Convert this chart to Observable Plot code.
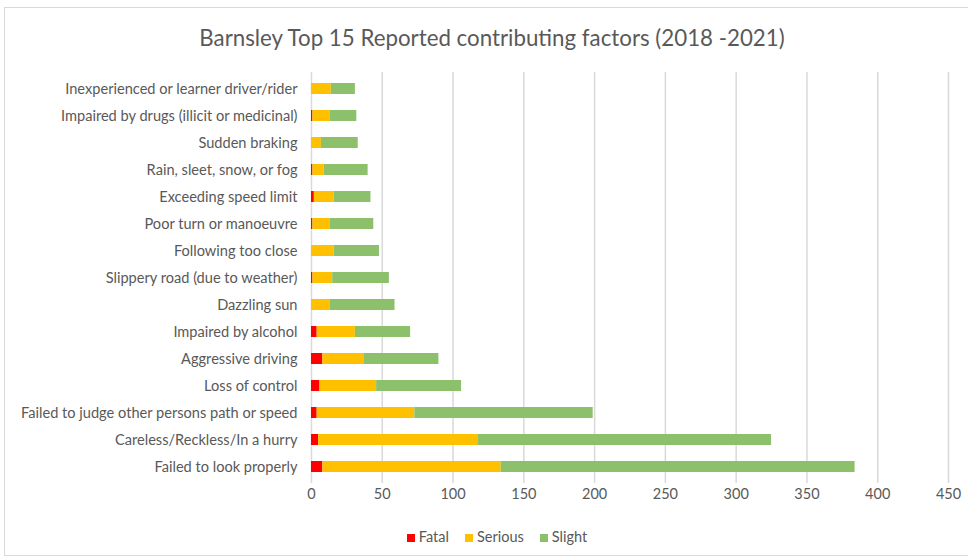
<!DOCTYPE html>
<html>
<head>
<meta charset="utf-8">
<script src="https://cdn.jsdelivr.net/npm/d3@7"></script>
<script src="https://cdn.jsdelivr.net/npm/@observablehq/plot@0.6"></script>
<style>
  body { margin: 0; background: #fff; }
  #wrap { position: relative; width: 968px; height: 559px; overflow: hidden; font-family: Lato, "Open Sans", sans-serif; }
  #frame { position: absolute; left: 4px; top: 7px; width: 980px; height: 549px; border: 1px solid #d9d9d9; box-sizing: border-box; }
  #title { position: absolute; left: 0; width: 984px; top: 24px; text-align: center; font-size: 22.3px; color: #595959; }
  #chart { position: absolute; left: 0; top: 0; }
  #legend { position: absolute; top: 528px; left: 0; width: 994px; text-align: center; font-size: 14.5px; color: #595959; }
  #legend span.item { margin: 0 8px; }
  #legend span.sw { display: inline-block; width: 8px; height: 8px; margin-right: 4px; }
</style>
</head>
<body>
<div id="wrap">
  <div id="frame"></div>
  <div id="title">Barnsley Top 15 Reported contributing factors (2018 -2021)</div>
  <div id="chart"></div>
  <div id="legend"></div>
</div>
<script>
const categories = [
  "Inexperienced or learner driver/rider",
  "Impaired by drugs (illicit or medicinal)",
  "Sudden braking",
  "Rain, sleet, snow, or fog",
  "Exceeding speed limit",
  "Poor turn or manoeuvre",
  "Following too close",
  "Slippery road (due to weather)",
  "Dazzling sun",
  "Impaired by alcohol",
  "Aggressive driving",
  "Loss of control",
  "Failed to judge other persons path or speed",
  "Careless/Reckless/In a hurry",
  "Failed to look properly"
];
const fatal   = [0, 1, 0, 1, 2, 1, 0, 1, 0, 4, 8, 6, 4, 5, 8];
const serious = [14, 12, 7, 8, 14, 12, 16, 14, 13, 27, 29, 40, 69, 113, 126];
const slight  = [17, 19, 26, 31, 26, 31, 32, 40, 46, 39, 53, 60, 126, 207, 250];
const seriesNames = ["Fatal", "Serious", "Slight"];
const seriesColors = ["#ff0000", "#ffc000", "#8cc06a"];
const xTicks = [0, 50, 100, 150, 200, 250, 300, 350, 400, 450];

const rows = [];
categories.forEach((c, i) => {
  rows.push({cat: c, series: "Fatal", value: fatal[i]});
  rows.push({cat: c, series: "Serious", value: serious[i]});
  rows.push({cat: c, series: "Slight", value: slight[i]});
});

const chart = Plot.plot({
  width: 968,
  height: 559,
  marginLeft: 311,
  marginRight: 20,
  marginTop: 72,
  marginBottom: 76,
  style: {fontFamily: "Lato, 'Open Sans', sans-serif", fontSize: "14px", color: "#595959", background: "transparent"},
  x: {domain: [0, 450], ticks: xTicks, label: null},
  y: {domain: categories, label: null, paddingInner: 0.6, paddingOuter: 0.3},
  color: {domain: seriesNames, range: seriesColors},
  marks: [
    Plot.gridX(xTicks, {stroke: "#d9d9d9", strokeOpacity: 1, strokeWidth: 1.5}),
    Plot.barX(rows, {x: "value", y: "cat", fill: "series", order: seriesNames}),
    Plot.axisX({ticks: xTicks, tickSize: 0, tickPadding: 5, fontSize: 14.5, label: null}),
    Plot.axisY({tickSize: 0, tickPadding: 14, fontSize: 14.6, label: null})
  ]
});
document.getElementById("chart").appendChild(chart);

const legend = document.getElementById("legend");
seriesNames.forEach((n, i) => {
  const item = document.createElement("span");
  item.className = "item";
  const sw = document.createElement("span");
  sw.className = "sw";
  sw.style.background = seriesColors[i];
  item.appendChild(sw);
  item.appendChild(document.createTextNode(n));
  legend.appendChild(item);
});
</script>
</body>
</html>
